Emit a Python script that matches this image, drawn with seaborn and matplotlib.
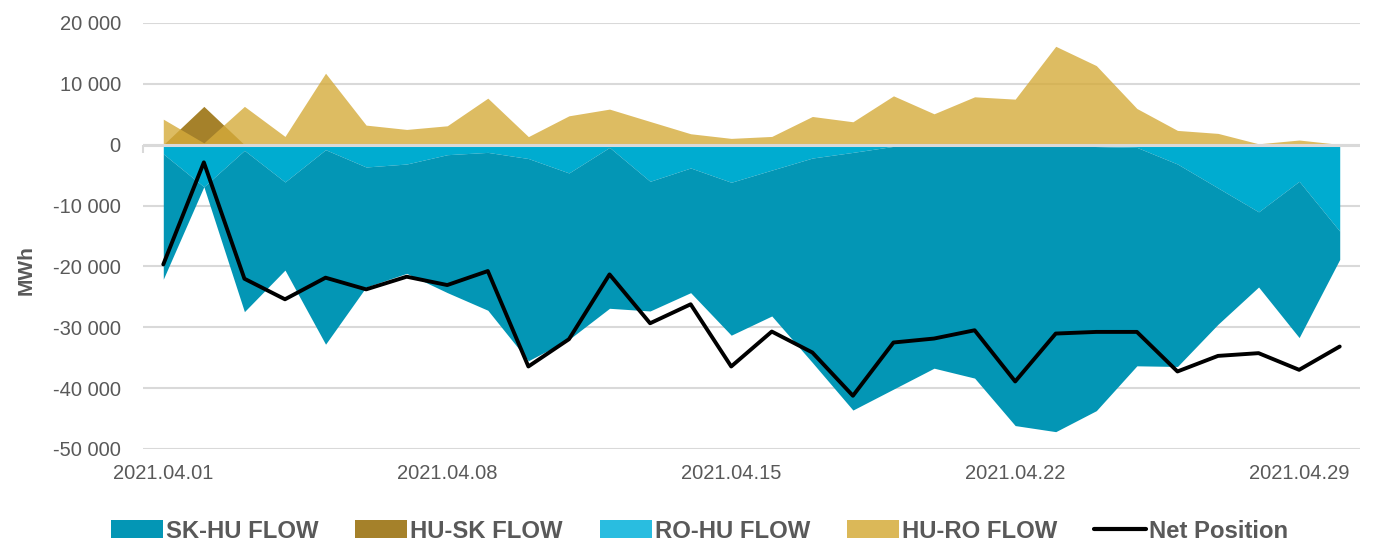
import numpy as np
import pandas as pd
import matplotlib
matplotlib.use("Agg")
import matplotlib.pyplot as plt
import seaborn as sns
from matplotlib.patches import Patch
from matplotlib.lines import Line2D
from matplotlib.ticker import FuncFormatter

# ---------------- data ----------------
dates = [f"2021.04.{d:02d}" for d in range(1, 31)]

sk_hu_flow = [-20600, 0, -26500, -14480, -31960, -19720, -17970, -22660, -25940, -33230,
              -27360, -26440, -21310, -20490, -25130, -23970, -33600, -42340, -39890, -36620,
              -38300, -46100, -47100, -43400, -35890, -33270, -22400, -12350, -25680, -4650]
hu_sk_flow = [0, 6300, 0, 0, 0, 0, 0, 0, 0, 0,
              0, 0, 0, 0, 0, 0, 0, 0, 0, 0,
              0, 0, 0, 0, 0, 0, 0, 0, 0, 0]
ro_hu_flow = [-1500, -6900, -930, -6120, -820, -3660, -3170, -1640, -1260, -2270,
              -4640, -440, -6010, -3820, -6170, -4170, -2190, -1260, -270, -100,
              -50, -50, -50, -300, -440, -3170, -7100, -11030, -6010, -14200]
hu_ro_flow = [4200, 300, 6300, 1360, 11750, 3220, 2510, 3110, 7650, 1330,
              4750, 5850, 3820, 1800, 1040, 1360, 4640, 3770, 8030, 5080,
              7870, 7490, 16170, 13000, 5950, 2350, 1860, 150, 770, 50]
net_position = [-19670, -2900, -22020, -25400, -21850, -23770, -21690, -23060, -20760, -36440,
                -31960, -21310, -29340, -26220, -36440, -30700, -34140, -41250, -32500, -31850,
                -30490, -38900, -31030, -30760, -30760, -37260, -34700, -34250, -36990, -33160]

series_names = ["SK-HU FLOW", "HU-SK FLOW", "RO-HU FLOW", "HU-RO FLOW", "Net Position"]
y_ticks = [20000, 10000, 0, -10000, -20000, -30000, -40000, -50000]
x_label_idx = [0, 7, 14, 21, 28]

df = pd.DataFrame({
    "idx": np.arange(len(dates)),
    "date": dates,
    "sk_hu": sk_hu_flow,
    "hu_sk": hu_sk_flow,
    "ro_hu": ro_hu_flow,
    "hu_ro": hu_ro_flow,
    "net": net_position,
})

# ---------------- style ----------------
sns.set_theme(style="white")
plt.rcParams["font.family"] = ["Liberation Sans", "DejaVu Sans"]

TXT = "#595959"
GRID = "#d9d9d9"
C_SKHU = "#0396b5"
C_HUSK = "#a5812a"
C_ROHU = "#00acd0"
C_HURO_FILL = "#d5ab3b"
C_HURO = "#dbb858"
C_ROHU_LEG = "#29bde0"

fig = plt.figure(figsize=(13.73, 5.42), dpi=100)
ax = fig.add_axes([143 / 1373, 1 - 449 / 542, 1217 / 1373, 426 / 542])

x = df["idx"].to_numpy()
ro = df["ro_hu"].to_numpy()
sk = df["sk_hu"].to_numpy()

# negative stack: RO-HU next to zero, SK-HU stacked below
ax.fill_between(x, 0, ro, color=C_ROHU, lw=0, zorder=1)
ax.fill_between(x, ro, ro + sk, color=C_SKHU, lw=0, zorder=1)
# positive overlapping areas
ax.fill_between(x, 0, df["hu_sk"], color=C_HUSK, lw=0, zorder=1)
ax.fill_between(x, 0, df["hu_ro"], color=C_HURO_FILL, alpha=0.8, lw=0, zorder=1.1)

# net position
sns.lineplot(data=df, x="idx", y="net", ax=ax, color="black", lw=2.8, zorder=4,
             legend=False)

# axes
ax.set_xlim(-0.5, len(dates) - 0.5)
ax.set_ylim(-50000, 20000)
ax.set_yticks(y_ticks)
ax.yaxis.set_major_formatter(FuncFormatter(lambda v, p: f"{int(v):,}".replace(",", " ")))
ax.grid(axis="y", color=GRID, lw=1.5, zorder=0)
ax.set_axisbelow(True)
ax.axhline(0, color=GRID, lw=2.2, zorder=3)
for s in ax.spines.values():
    s.set_visible(False)

ax.set_xticks(x_label_idx)
ax.set_xticklabels([dates[i] for i in x_label_idx])
ax.tick_params(axis="x", length=0, pad=11, labelsize=14.5, labelcolor=TXT)
ax.tick_params(axis="y", length=0, pad=16, labelsize=14.5, labelcolor=TXT)
ax.set_xlabel("")
ax.set_ylabel("MWh", fontsize=15, fontweight="bold", color=TXT)
ax.yaxis.set_label_coords(-0.088, 0.42)

# tick marks on the zero line between category groups
sec = ax.secondary_xaxis(50000 / 70000)
sec.set_xticks(np.arange(-0.5, len(dates) - 0.5, 7))
sec.tick_params(axis="x", length=6, width=1.5, color=GRID, labelbottom=False,
                labeltop=False, direction="in")
for s in sec.spines.values():
    s.set_visible(False)

# legend
handles = [
    Patch(facecolor=C_SKHU, edgecolor="none"),
    Patch(facecolor=C_HUSK, edgecolor="none"),
    Patch(facecolor=C_ROHU_LEG, edgecolor="none"),
    Patch(facecolor=C_HURO, edgecolor="none"),
    Line2D([0], [0], color="black", lw=3),
]
leg = fig.legend(handles, series_names, loc="center", bbox_to_anchor=(0.5095, 1 - 531 / 542),
                 ncol=5, frameon=False, handlelength=2.18, handleheight=0.75,
                 handletextpad=0.12, columnspacing=1.55,
                 prop={"family": "Liberation Sans", "weight": "bold", "size": 17.2})
for t in leg.get_texts():
    t.set_color(TXT)

fig.savefig("out.png", dpi=100)
